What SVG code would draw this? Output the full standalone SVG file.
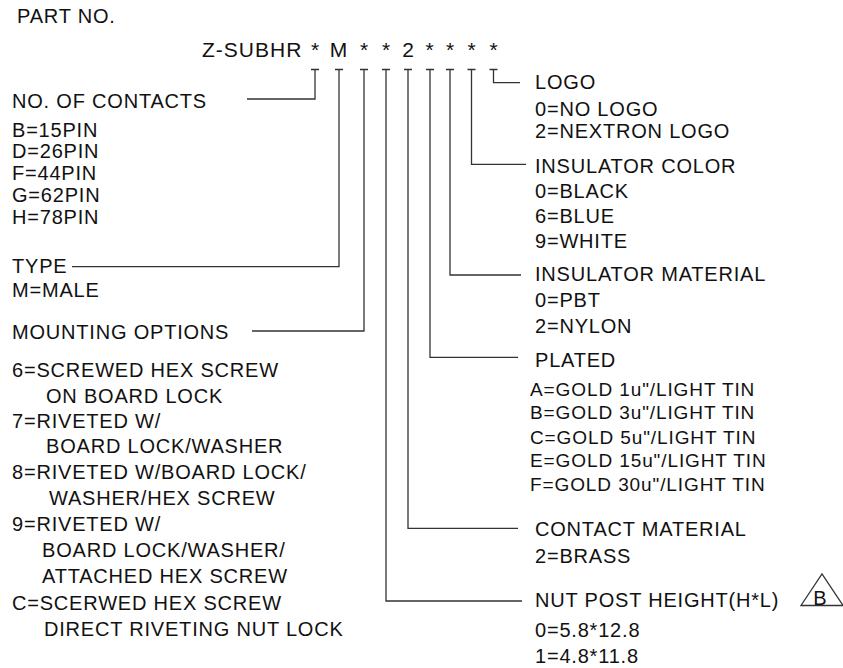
<svg xmlns="http://www.w3.org/2000/svg" width="843" height="668" viewBox="0 0 843 668">
<style>
text{font-family:"Liberation Sans",Arial,sans-serif;font-size:20px;letter-spacing:0.8px;fill:#111}
.pn{font-size:21px;letter-spacing:1px}
.ch{font-size:21px;letter-spacing:0;text-anchor:middle}
.sm{font-size:19px;letter-spacing:0.9px}
.ln{fill:none;stroke:#333;stroke-width:1.3}
</style>
<rect width="843" height="668" fill="#fff"/>
<g id="part-number">
<text x="17" y="22.7">PART NO.</text>
<text class="pn" x="202" y="57">Z-SUBHR</text>
<text class="ch" x="315" y="57">*</text>
<text class="ch" x="338.5" y="57">M</text>
<text class="ch" x="364" y="57">*</text>
<text class="ch" x="386" y="57">*</text>
<text class="ch" x="408" y="57">2</text>
<text class="ch" x="429.5" y="57">*</text>
<text class="ch" x="450" y="57">*</text>
<text class="ch" x="471.5" y="57">*</text>
<text class="ch" x="493.5" y="57">*</text>
</g>
<g id="connectors" class="ln">
<path d="M311 69.5H319M315 69.5V99H247"/>
<path d="M335 69.5H343M339 69.5V266.7H72"/>
<path d="M360 69.5H368M364 69.5V331H252"/>
<path d="M382 69.5H390M386 69.5V601H522"/>
<path d="M404 69.5H412M408 69.5V528.3H518"/>
<path d="M426 69.5H434M430 69.5V357.3H518"/>
<path d="M446 69.5H454M450 69.5V275H521"/>
<path d="M467.5 69.5H475.5M471.5 69.5V164.3H526"/>
<path d="M489.5 69.5H497.5M493.5 69.5V82.7H520"/>
</g>
<g id="contacts">
<text x="12" y="107.5">NO. OF CONTACTS</text>
<text x="12" y="136.5">B=15PIN</text>
<text x="12" y="158.3">D=26PIN</text>
<text x="12" y="180">F=44PIN</text>
<text x="12" y="202">G=62PIN</text>
<text x="12" y="224">H=78PIN</text>
</g>
<g id="type">
<text x="12" y="273.3">TYPE</text>
<text x="12" y="296.7">M=MALE</text>
</g>
<g id="mounting">
<text x="12" y="338.5">MOUNTING OPTIONS</text>
<text x="12" y="377">6=SCREWED HEX SCREW</text>
<text x="46" y="403">ON BOARD LOCK</text>
<text x="12" y="428">7=RIVETED W/</text>
<text x="46" y="453">BOARD LOCK/WASHER</text>
<text x="12" y="479">8=RIVETED W/BOARD LOCK/</text>
<text x="49" y="505">WASHER/HEX SCREW</text>
<text x="12" y="531">9=RIVETED W/</text>
<text x="42" y="557">BOARD LOCK/WASHER/</text>
<text x="42" y="583">ATTACHED HEX SCREW</text>
<text x="12" y="610">C=SCERWED HEX SCREW</text>
<text x="44" y="636">DIRECT RIVETING NUT LOCK</text>
</g>
<g id="logo">
<text x="535" y="89.3">LOGO</text>
<text x="535" y="116">0=NO LOGO</text>
<text x="535" y="138.3">2=NEXTRON LOGO</text>
</g>
<g id="insulator-color">
<text x="535" y="172.7">INSULATOR COLOR</text>
<text x="535" y="197.7">0=BLACK</text>
<text x="535" y="222.7">6=BLUE</text>
<text x="535" y="247.7">9=WHITE</text>
</g>
<g id="insulator-material">
<text x="535" y="280.7">INSULATOR MATERIAL</text>
<text x="535" y="307.3">0=PBT</text>
<text x="535" y="332.7">2=NYLON</text>
</g>
<g id="plated">
<text x="535" y="366.7">PLATED</text>
<text class="sm" x="530" y="395.7">A=GOLD 1u"/LIGHT TIN</text>
<text class="sm" x="530" y="419">B=GOLD 3u"/LIGHT TIN</text>
<text class="sm" x="530" y="444">C=GOLD 5u"/LIGHT TIN</text>
<text class="sm" x="530" y="467">E=GOLD 15u"/LIGHT TIN</text>
<text class="sm" x="530" y="490.7">F=GOLD 30u"/LIGHT TIN</text>
</g>
<g id="contact-material">
<text x="535" y="535.7">CONTACT MATERIAL</text>
<text x="535" y="563.3">2=BRASS</text>
</g>
<g id="nut-post">
<text x="535" y="606.7">NUT POST HEIGHT(H*L)</text>
<text x="535" y="637.3">0=5.8*12.8</text>
<text x="535" y="663.3">1=4.8*11.8</text>
<path class="ln" d="M801 605.5L822 574L843 605.5Z"/>
<text x="820" y="605" style="text-anchor:middle;letter-spacing:0">B</text>
</g>
</svg>
